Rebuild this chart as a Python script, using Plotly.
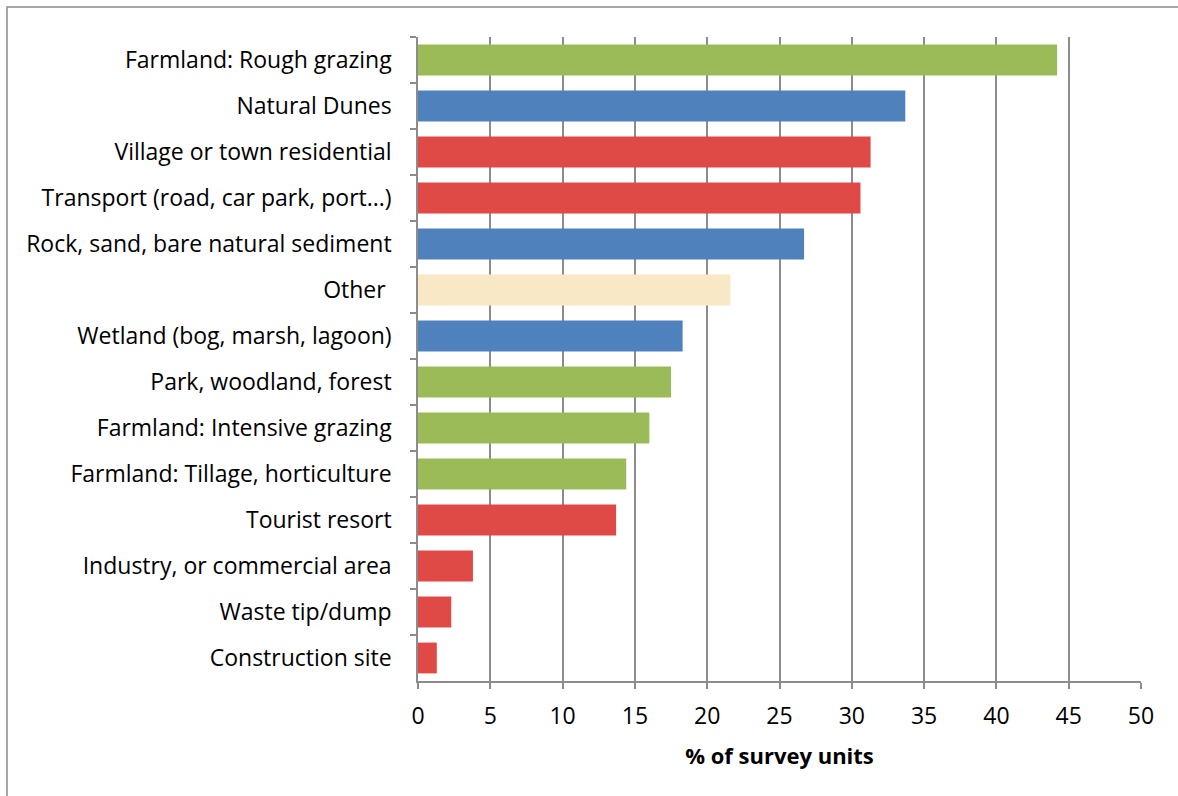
import plotly.graph_objects as go

# Land use categories, listed top to bottom
categories = [
    "Farmland: Rough grazing",
    "Natural Dunes",
    "Village or town residential",
    "Transport (road, car park, port...)",
    "Rock, sand, bare natural sediment",
    "Other\u00a0",
    "Wetland (bog, marsh, lagoon)",
    "Park, woodland, forest",
    "Farmland: Intensive grazing",
    "Farmland: Tillage, horticulture",
    "Tourist resort",
    "Industry, or commercial area",
    "Waste tip/dump",
    "Construction site",
]
percent_units = [44.2, 33.7, 31.3, 30.6, 26.7, 21.6, 18.3, 17.5, 16.0, 14.4, 13.7, 3.8, 2.3, 1.3]
groups = ["agri", "natural", "built", "built", "natural", "other", "natural",
          "agri", "agri", "agri", "built", "built", "built", "built"]
group_colors = {"agri": "#9BBB59", "natural": "#4F81BD", "built": "#DF4A47", "other": "#F8E8C5"}
x_ticks = list(range(0, 51, 5))

GRID = "#8C8C8C"
FONT = "'Open Sans', 'Noto Sans', sans-serif"

fig = go.Figure(
    go.Bar(
        x=percent_units,
        y=categories,
        orientation="h",
        marker=dict(color=[group_colors[g] for g in groups], line=dict(width=0)),
        hoverinfo="x+y",
    )
)

W, H = 1178, 796
ml, mr, mt, mb = 418, 37, 37, 115
pw, ph = W - ml - mr, H - mt - mb

# outer chart frame (extends past the right/bottom page edge)
fig.add_shape(
    type="rect", xref="paper", yref="paper",
    x0=(7 - ml) / pw, x1=(W + 20 - ml) / pw,
    y0=-(H + 20 - mt - ph) / ph, y1=1 + (mt - 7) / ph,
    line=dict(color="#8A8A8A", width=1.5), fillcolor="rgba(0,0,0,0)", layer="below",
)

fig.update_layout(
    width=W, height=H,
    margin=dict(l=ml, r=mr, t=mt, b=mb, pad=0),
    paper_bgcolor="white", plot_bgcolor="white",
    bargap=0.33,
    showlegend=False,
    font=dict(family=FONT, size=22, color="#000000"),
    xaxis=dict(
        range=[0, 50], tickvals=x_ticks, ticktext=[str(v) for v in x_ticks],
        showgrid=True, gridcolor=GRID, gridwidth=1.5,
        showline=True, linecolor=GRID, linewidth=1.5,
        ticks="outside", ticklen=6, tickcolor=GRID, tickwidth=1.5,
        zeroline=False,
        tickfont=dict(size=23),
        ticklabelstandoff=8,
        title=dict(text="<b>% of survey units</b>", font=dict(size=22), standoff=18),
    ),
    yaxis=dict(
        categoryorder="array", categoryarray=categories, autorange="reversed",
        showline=True, linecolor=GRID, linewidth=1.5,
        ticks="outside", ticklen=6, tickcolor=GRID, tickwidth=1.5,
        tickson="boundaries",
        showgrid=False,
        tickfont=dict(size=23),
        ticklabelstandoff=20,
    ),
)

fig.write_html("out.html")
